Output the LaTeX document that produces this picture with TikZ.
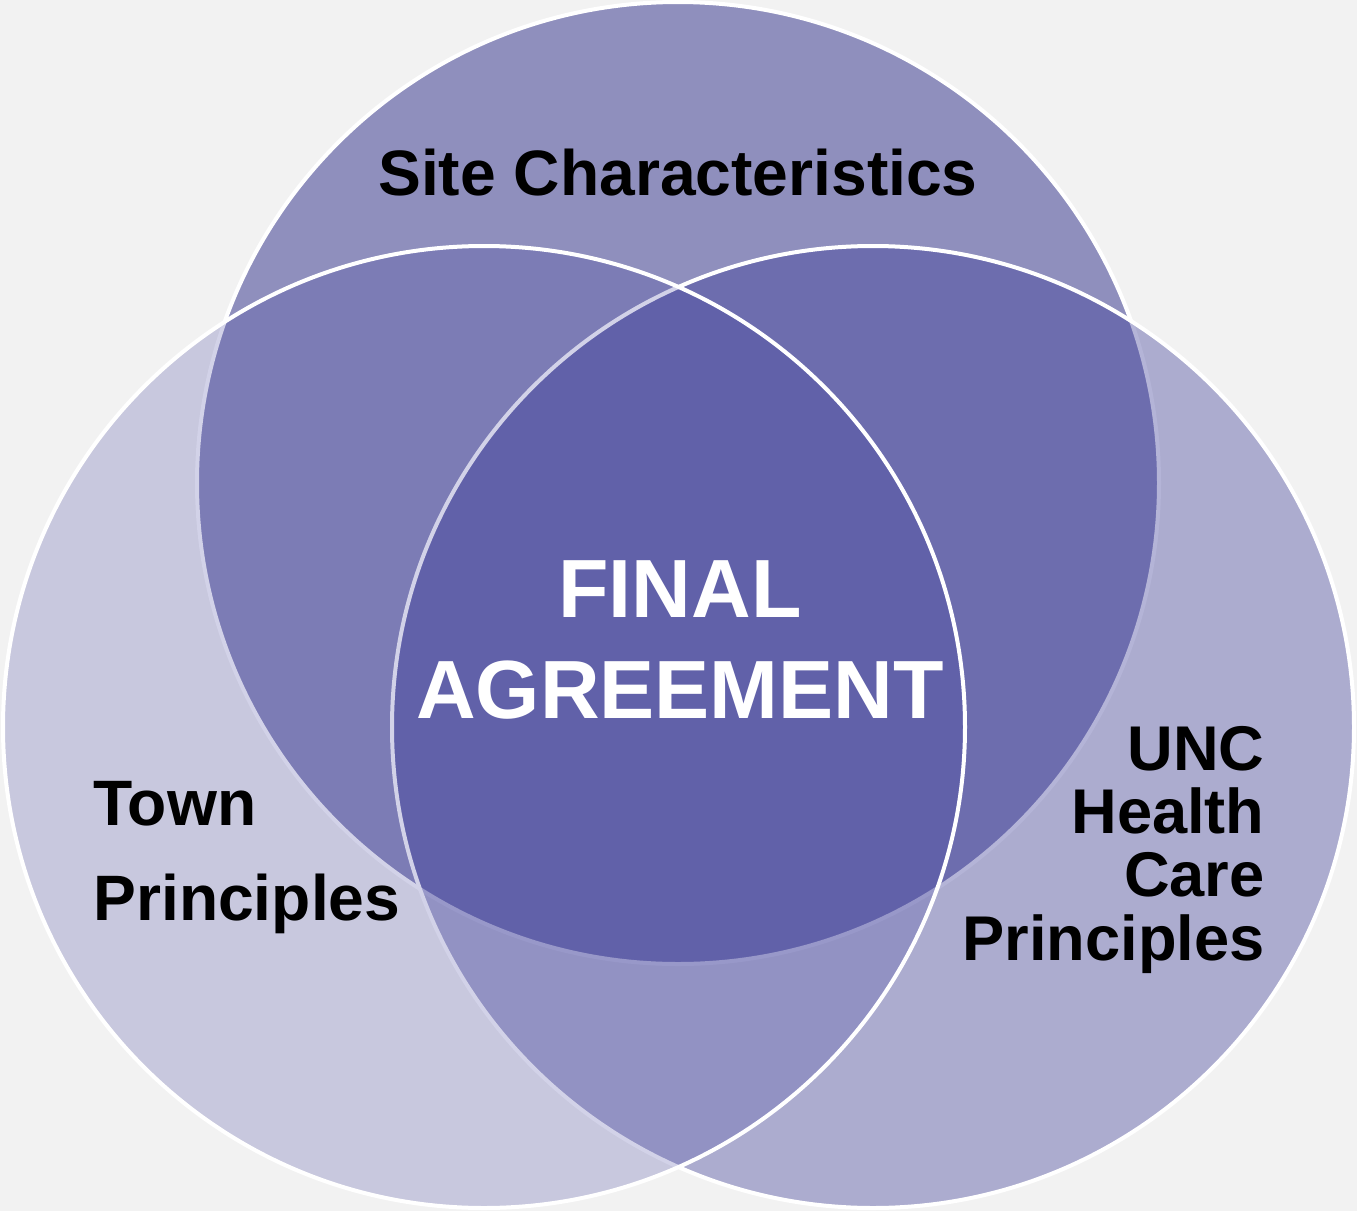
\documentclass[tikz,border=0pt]{standalone}
\usepackage{fontspec}
\setmainfont{Liberation Sans}
\definecolor{bgc}{RGB}{242,242,242}
\definecolor{topc}{RGB}{143,143,189}
\definecolor{rightc}{RGB}{52,52,148}
\definecolor{leftc}{RGB}{61,61,156}
\begin{document}
\begin{tikzpicture}[x=0.5pt,y=-0.5pt,
  ring/.style={draw=white,line width=2pt},
  lbl/.style={inner sep=0pt,text=black,font=\bfseries\fontsize{32.1}{47.5}\selectfont},
  rlbl/.style={inner sep=0pt,text=black,font=\bfseries\fontsize{31.6}{31.6}\selectfont},
  clbl/.style={inner sep=0pt,text=white,font=\bfseries\fontsize{41.3}{50.5}\selectfont}]
\useasboundingbox (0,0) rectangle (1357,1211);
\fill[bgc] (0,0) rectangle (1357,1211);
\coordinate (ct) at (678,483);
\coordinate (cr) at (873,727);
\coordinate (cl) at (484,727);
\draw[ring,fill=topc] (ct) circle[radius=240.5pt];
\draw[ring,fill=rightc,fill opacity=0.364] (cr) circle[radius=240.5pt];
\draw[ring,fill=leftc,fill opacity=0.232] (cl) circle[radius=240.5pt];
\node[lbl,anchor=base] (site) at (678,195) {Site Characteristics};
\node[clbl,anchor=base,align=center] (final) at (680,718) {FINAL\\AGREEMENT};
\node[lbl,anchor=base west,align=left] (town) at (93,920) {Town\\Principles};
\node[rlbl,anchor=base east,align=right] (unc) at (1265,960) {UNC\\Health\\Care\\Principles};
\end{tikzpicture}
\end{document}
